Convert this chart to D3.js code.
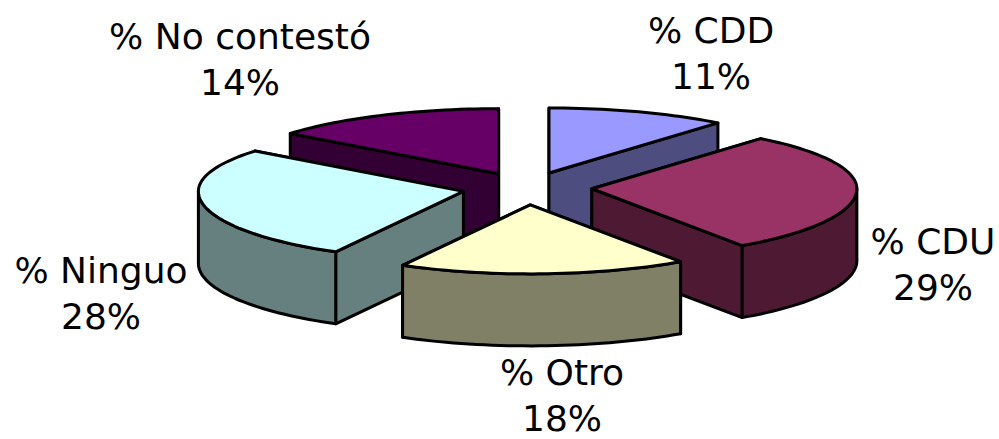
<!DOCTYPE html>
<html>
<head>
<meta charset="utf-8">
<script src="https://cdn.jsdelivr.net/npm/d3@7"></script>
<style>
  html, body { margin: 0; padding: 0; background: #fff; overflow: hidden; }
  text { font-family: "DejaVu Sans", sans-serif; font-size: 36px; fill: #000; text-anchor: middle; }
</style>
</head>
<body>
<svg id="chart" width="999" height="439"></svg>
<script>
const categories = ['% CDD', '% CDU', '% Otro', '% Ninguo', '% No contestó']
const shares = [11, 29.4, 17.6, 27.6, 14.4]
const topColors = ['#9999FF', '#993366', '#FFFFCC', '#CCFFFF', '#660066']
const sideColors = ['#4D4D80', '#4D1933', '#808066', '#668080', '#330033']

// label centres, same order as categories
const labelX = [711, 933, 562, 101, 240]
const labelY = [43, 254, 385, 283, 49]
const LINE_GAP = 46

const EXPLODE = 0.245
const DEPTH = 72
const STEP = 0.03

const $svg = d3.select('#chart')

// unit disc to page, near side a little deeper than far side
const xScale = d3.scaleLinear().domain([-1, 1]).range([262, 792])
const yScale = d3.scaleLinear().domain([-1, 0, 1]).range([257, 188, 123])

const pie = d3.pie().sort(null)
const slices = pie(shares).map((d, i) => ({ ...d, i }))

const line = d3.line().x(d => d[0]).y(d => d[1])

function project(slice, r, angle, drop) {
  const mid = (slice.startAngle + slice.endAngle) / 2
  const u = EXPLODE * Math.sin(mid) + r * Math.sin(angle)
  const v = EXPLODE * Math.cos(mid) + r * Math.cos(angle)
  return [xScale(u), yScale(v) + drop]
}

function arcAngles(a0, a1) {
  const n = Math.max(1, Math.ceil((a1 - a0) / STEP))
  return d3.range(n + 1).map(k => a0 + (a1 - a0) * k / n)
}

function drawPath(pts, fill) {
  $svg.append('path')
    .attr('d', line(pts) + 'Z')
    .attr('fill', fill)
    .attr('stroke', '#000')
    .attr('stroke-width', 3)
    .attr('stroke-linejoin', 'round')
}

function drawSlice(s) {
  const side = sideColors[s.i]

  // cut faces, the one further back goes first
  const cuts = [s.startAngle, s.endAngle].sort((a, b) => Math.cos(b) - Math.cos(a))
  cuts.forEach(a => {
    drawPath([
      project(s, 0, a, 0), project(s, 1, a, 0),
      project(s, 1, a, DEPTH), project(s, 0, a, DEPTH)
    ], side)
  })

  // outer wall, front half only
  const a0 = Math.max(s.startAngle, Math.PI / 2)
  const a1 = Math.min(s.endAngle, Math.PI * 1.5)
  if (a1 > a0) {
    const angles = arcAngles(a0, a1)
    drawPath(
      angles.map(a => project(s, 1, a, 0))
        .concat(angles.slice().reverse().map(a => project(s, 1, a, DEPTH))),
      side
    )
  }

  // top
  drawPath(
    [project(s, 0, 0, 0)].concat(arcAngles(s.startAngle, s.endAngle).map(a => project(s, 1, a, 0))),
    topColors[s.i]
  )
}

// back slices first
const order = [4, 0, 1, 3, 2]
order.forEach(i => drawSlice(slices[i]))

const $labels = $svg.selectAll('g.label')
  .data(categories)
  .enter()
  .append('g')
  .attr('class', 'label')

$labels.append('text')
  .attr('x', (d, i) => labelX[i])
  .attr('y', (d, i) => labelY[i])
  .text(d => d)

$labels.append('text')
  .attr('x', (d, i) => labelX[i])
  .attr('y', (d, i) => labelY[i] + LINE_GAP)
  .text((d, i) => `${Math.round(shares[i])}%`)
</script>
</body>
</html>
